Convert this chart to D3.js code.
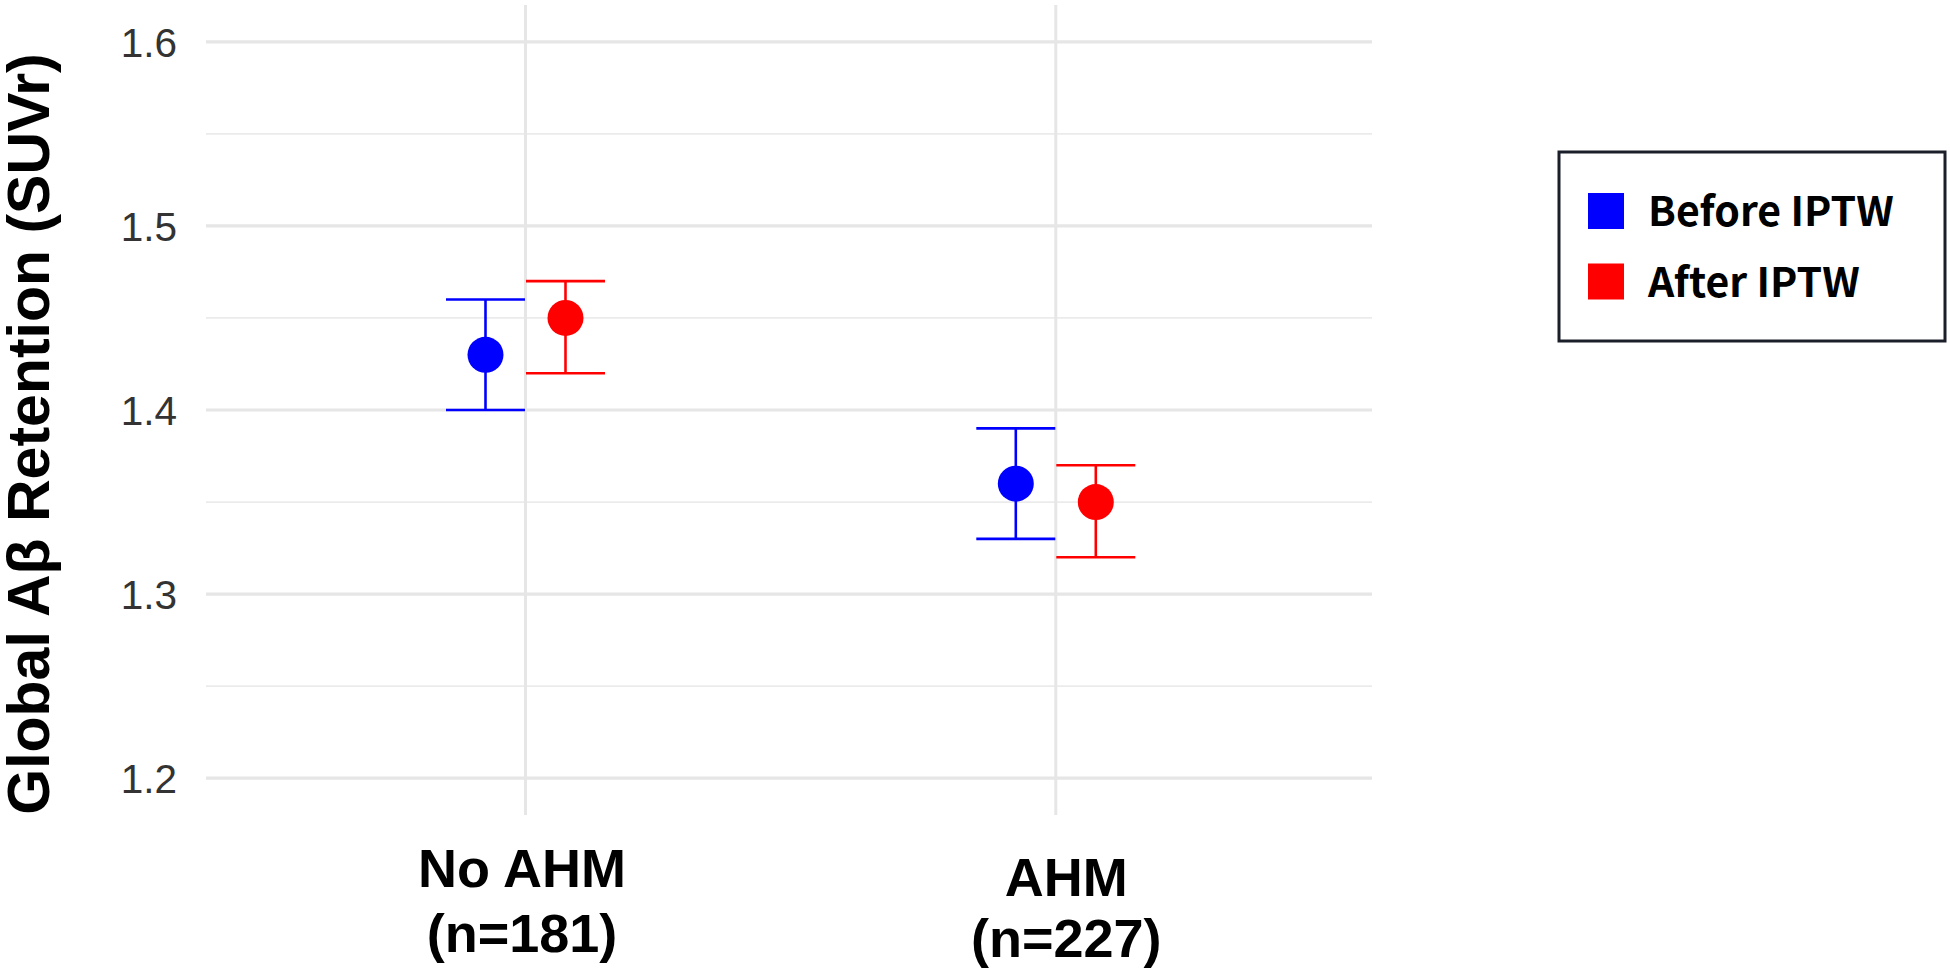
<!DOCTYPE html>
<html>
<head>
<meta charset="utf-8">
<script src="https://cdn.jsdelivr.net/npm/d3@7"></script>
<style>
  html, body { margin: 0; padding: 0; background: #ffffff; }
  svg { display: block; }
</style>
</head>
<body>
<svg id="chart" width="1950" height="972"></svg>
<script>
// ---- data ----
const categories = ["No AHM", "AHM"];
const nLabels = ["(n=181)", "(n=227)"];
const seriesNames = ["Before IPTW", "After IPTW"];
const seriesColors = ["#0000FF", "#FF0000"];
const beforeMean = [1.43, 1.36];
const beforeLow  = [1.40, 1.33];
const beforeHigh = [1.46, 1.39];
const afterMean  = [1.45, 1.35];
const afterLow   = [1.42, 1.32];
const afterHigh  = [1.47, 1.37];
const yTicks = [1.2, 1.3, 1.4, 1.5, 1.6];
const yMinorTicks = [1.25, 1.35, 1.45, 1.55];
const yTitle = "Global A\u03B2 Retention (SUVr)";

const seriesData = [
  { name: seriesNames[0], color: seriesColors[0], mean: beforeMean, low: beforeLow, high: beforeHigh },
  { name: seriesNames[1], color: seriesColors[1], mean: afterMean,  low: afterLow,  high: afterHigh }
];

// ---- layout ----
const panel = { left: 206, right: 1372, top: 5, bottom: 815 };

const svg = d3.select("#chart");

const y = d3.scaleLinear().domain([1.18, 1.62]).range([panel.bottom, panel.top]);
const x = d3.scalePoint().domain(categories).range([525.5, 1055.8]);
const dodge = d3.scalePoint().domain(seriesNames).range([-40, 40]);

// ---- grid ----
const grid = svg.append("g");
grid.selectAll("line.minor").data(yMinorTicks).enter().append("line")
  .attr("x1", panel.left).attr("x2", panel.right)
  .attr("y1", d => y(d)).attr("y2", d => y(d))
  .attr("stroke", "#EBEBEB").attr("stroke-width", 1.8);
grid.selectAll("line.major").data(yTicks).enter().append("line")
  .attr("x1", panel.left).attr("x2", panel.right)
  .attr("y1", d => y(d)).attr("y2", d => y(d))
  .attr("stroke", "#E6E6E6").attr("stroke-width", 3.2);
grid.selectAll("line.vert").data(categories).enter().append("line")
  .attr("x1", d => x(d)).attr("x2", d => x(d))
  .attr("y1", panel.top).attr("y2", panel.bottom)
  .attr("stroke", "#E6E6E6").attr("stroke-width", 3);

// ---- y axis ----
const yAxis = svg.append("g")
  .attr("transform", `translate(${panel.left},0)`)
  .call(d3.axisLeft(y).tickValues(yTicks).tickSize(0).tickFormat(d3.format(".1f")));
yAxis.select(".domain").remove();
yAxis.selectAll("text")
  .attr("x", -29)
  .attr("dy", "0.36em")
  .style("font-family", "'Liberation Sans', Arial, sans-serif")
  .style("font-size", "40.5px")
  .attr("fill", "#333333");

// ---- x axis ----
const labelNudgeX = [-4, 10];
const labelLine1 = [72, 81];
const labelLine2 = [137, 142];
const xAxis = svg.append("g")
  .attr("transform", `translate(0,${panel.bottom})`)
  .call(d3.axisBottom(x).tickSize(0));
xAxis.select(".domain").remove();
xAxis.selectAll(".tick text").each(function(d, i) {
  const t = d3.select(this);
  t.text(null)
    .attr("y", null).attr("dy", null)
    .attr("text-anchor", "middle")
    .style("font-family", "'Liberation Sans', Arial, sans-serif")
    .style("font-weight", "bold")
    .style("font-size", "54px")
    .attr("fill", "#000");
  t.append("tspan").attr("x", labelNudgeX[i]).attr("y", labelLine1[i]).text(d);
  t.append("tspan").attr("x", labelNudgeX[i]).attr("y", labelLine2[i]).text(nLabels[i]);
});

// ---- y title ----
svg.append("text")
  .attr("transform", `translate(49,434) rotate(-90)`)
  .attr("text-anchor", "middle")
  .style("font-family", "'Liberation Sans', Arial, sans-serif")
  .style("font-weight", "bold")
  .style("font-size", "59px")
  .attr("fill", "#000")
  .text(yTitle);

// ---- error bars and points ----
const capHalf = 39.5;
const marks = svg.append("g");
seriesData.forEach(s => {
  const g = marks.append("g");
  const rows = categories.map((c, i) => ({ c, mean: s.mean[i], low: s.low[i], high: s.high[i] }));
  const cx = d => x(d.c) + dodge(s.name);
  g.selectAll("line.stem").data(rows).enter().append("line")
    .attr("x1", cx).attr("x2", cx)
    .attr("y1", d => y(d.low)).attr("y2", d => y(d.high))
    .attr("stroke", s.color).attr("stroke-width", 2.6);
  g.selectAll("line.capTop").data(rows).enter().append("line")
    .attr("x1", d => cx(d) - capHalf).attr("x2", d => cx(d) + capHalf)
    .attr("y1", d => y(d.high)).attr("y2", d => y(d.high))
    .attr("stroke", s.color).attr("stroke-width", 2.6);
  g.selectAll("line.capBot").data(rows).enter().append("line")
    .attr("x1", d => cx(d) - capHalf).attr("x2", d => cx(d) + capHalf)
    .attr("y1", d => y(d.low)).attr("y2", d => y(d.low))
    .attr("stroke", s.color).attr("stroke-width", 2.6);
  g.selectAll("circle").data(rows).enter().append("circle")
    .attr("cx", cx).attr("cy", d => y(d.mean))
    .attr("r", 18)
    .attr("fill", s.color);
});

// ---- legend ----
const legend = svg.append("g");
legend.append("rect")
  .attr("x", 1559).attr("y", 152).attr("width", 386).attr("height", 189)
  .attr("fill", "#fff").attr("stroke", "#1B1F2A").attr("stroke-width", 3);
const li = legend.selectAll("g.item").data(seriesData).enter().append("g")
  .attr("transform", (d, i) => `translate(1588,${193 + i * 70.5})`);
li.append("rect").attr("width", 36).attr("height", 36).attr("fill", d => d.color);
li.append("text")
  .attr("x", 60).attr("y", 33)
  .style("font-family", "'Noto Sans CJK KR', 'Noto Sans', sans-serif")
  .style("font-weight", "bold")
  .style("font-size", "41px")
  .attr("fill", "#000")
  .text(d => d.name);
</script>
</body>
</html>
